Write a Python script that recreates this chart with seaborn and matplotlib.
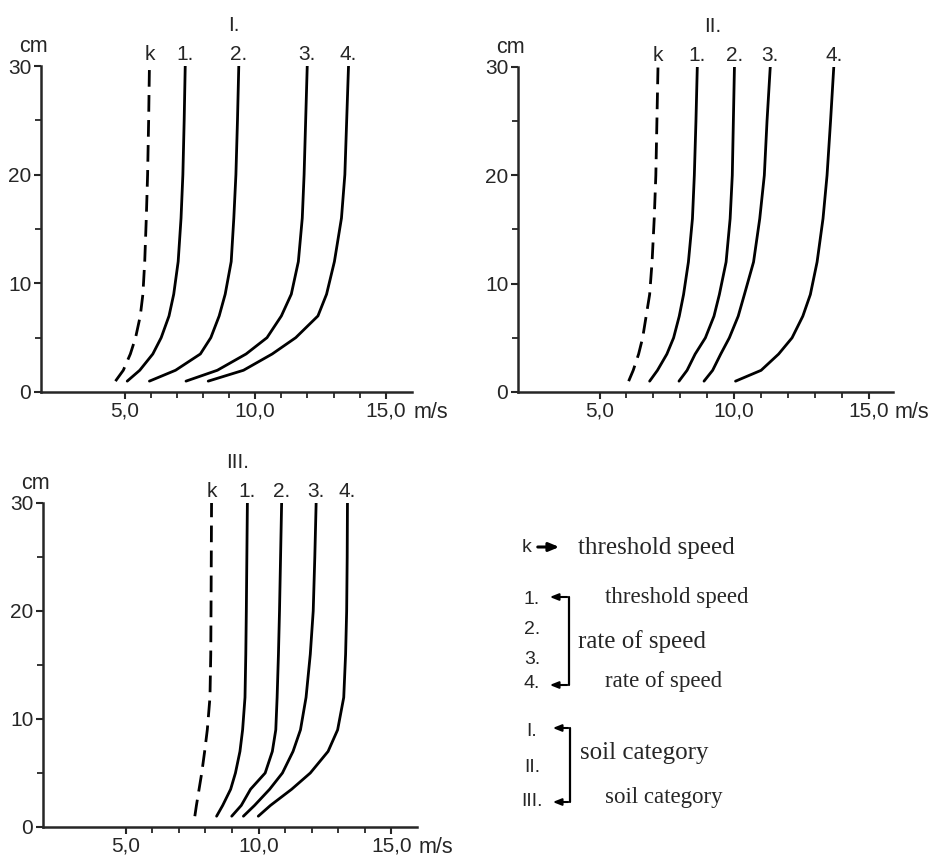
import matplotlib
matplotlib.use("Agg")
import matplotlib.pyplot as plt
import seaborn as sns
import pandas as pd

# heights above the surface (cm) at which the profiles were read
heights = [1, 2, 3.5, 5, 7, 9, 12, 16, 20, 25, 30]
curve_names = ["k", "1.", "2.", "3.", "4."]

# wind speed (m/s) - soil category I.
speed_I_k = [4.65, 4.95, 5.22, 5.42, 5.60, 5.70, 5.77, 5.83, 5.88, 5.92, 5.95]
speed_I_1 = [5.10, 5.58, 6.08, 6.40, 6.70, 6.88, 7.05, 7.16, 7.23, 7.28, 7.32]
speed_I_2 = [5.95, 6.95, 7.90, 8.30, 8.62, 8.85, 9.08, 9.18, 9.26, 9.32, 9.37]
speed_I_3 = [7.35, 8.55, 9.65, 10.45, 11.00, 11.38, 11.65, 11.80, 11.87, 11.93, 11.99]
speed_I_4 = [8.20, 9.55, 10.65, 11.55, 12.40, 12.73, 13.03, 13.30, 13.43, 13.50, 13.57]

# soil category II.
speed_II_k = [6.08, 6.25, 6.45, 6.60, 6.73, 6.86, 6.95, 7.03, 7.09, 7.13, 7.17]
speed_II_1 = [6.86, 7.15, 7.50, 7.75, 7.96, 8.12, 8.30, 8.45, 8.52, 8.58, 8.63]
speed_II_2 = [7.95, 8.25, 8.55, 8.93, 9.25, 9.45, 9.70, 9.85, 9.93, 9.97, 10.01]
speed_II_3 = [8.88, 9.20, 9.50, 9.82, 10.15, 10.38, 10.72, 10.95, 11.12, 11.22, 11.34]
speed_II_4 = [10.05, 11.00, 11.65, 12.15, 12.55, 12.83, 13.08, 13.30, 13.45, 13.58, 13.70]

# soil category III.
speed_III_k = [7.60, 7.66, 7.76, 7.86, 7.97, 8.07, 8.17, 8.20, 8.21, 8.22, 8.23]
speed_III_1 = [8.42, 8.65, 8.95, 9.13, 9.30, 9.40, 9.49, 9.52, 9.54, 9.56, 9.58]
speed_III_2 = [8.99, 9.35, 9.70, 10.25, 10.52, 10.65, 10.70, 10.75, 10.79, 10.83, 10.87]
speed_III_3 = [9.43, 9.85, 10.42, 10.90, 11.30, 11.58, 11.79, 11.95, 12.06, 12.12, 12.17]
speed_III_4 = [9.99, 10.45, 11.25, 11.95, 12.62, 12.98, 13.21, 13.28, 13.32, 13.34, 13.35]

x_ticks = [5, 10, 15]
x_tick_labels = ["5,0", "10,0", "15,0"]
y_ticks = [0, 10, 20, 30]

sns.set_style("ticks")
plt.rcParams["font.family"] = ["Liberation Sans", "DejaVu Sans"]

fig = plt.figure(figsize=(9.3, 8.59), dpi=100)
fig.patch.set_facecolor("white")

W, H = 930, 859


def rect(x0, y_top, x1, y_bot):
    return [x0 / W, 1 - y_bot / H, (x1 - x0) / W, (y_bot - y_top) / H]


panels = [
    ("I.", [speed_I_k, speed_I_1, speed_I_2, speed_I_3, speed_I_4],
     rect(41, 66, 412, 392), (1.8, 16.0)),
    ("II.", [speed_II_k, speed_II_1, speed_II_2, speed_II_3, speed_II_4],
     rect(518, 67, 893, 392), (1.97, 15.9)),
    ("III.", [speed_III_k, speed_III_1, speed_III_2, speed_III_3, speed_III_4],
     rect(43, 503, 417, 827), (1.88, 15.97)),
]

for title, curves, r, xlim in panels:
    ax = fig.add_axes(r)
    rows = []
    for name, sp in zip(curve_names, curves):
        for h, s in zip(heights, sp):
            rows.append((name, s, h))
    df = pd.DataFrame(rows, columns=["curve", "speed", "height"])

    for name in curve_names:
        d = df[df["curve"] == name]
        ls = (0, (6, 3)) if name == "k" else "-"
        sns.lineplot(data=d, x="speed", y="height", sort=False, estimator=None,
                     color="black", lw=2.0, linestyle=ls, ax=ax)
        ax.text(d["speed"].iloc[-1], 31.1, name, ha="center", va="center",
                fontsize=15, clip_on=False)

    ax.set_xlim(*xlim)
    ax.set_ylim(0, 30)
    ax.set_xticks(x_ticks)
    ax.set_xticklabels(x_tick_labels)
    ax.set_xticks([v for v in range(6, 15) if v != 10], minor=True)
    ax.set_yticks(y_ticks)
    ax.set_yticks([5, 15, 25], minor=True)
    ax.tick_params(axis="both", which="major", labelsize=15, length=5, width=1.5,
                   direction="out", pad=2)
    ax.tick_params(axis="both", which="minor", length=4, width=1.3, direction="out")
    ax.set_xlabel("")
    ax.set_ylabel("")
    sns.despine(ax=ax)
    for sp_name in ["left", "bottom"]:
        ax.spines[sp_name].set_linewidth(1.8)
    ax.set_facecolor("none")

    ax.text(-0.02, 1.06, "cm", transform=ax.transAxes, fontsize=15.5,
            ha="center", va="center")
    ax.text(1.05, -0.062, "m/s", transform=ax.transAxes, fontsize=15.5,
            ha="center", va="center")
    ax.text(0.52, 1.125, title, transform=ax.transAxes, fontsize=15,
            ha="center", va="center")

# key, drawn in pixel coordinates of the page
key = fig.add_axes([0, 0, 1, 1])
key.set_xlim(0, W)
key.set_ylim(H, 0)
key.axis("off")
key.patch.set_alpha(0)

serif = ["Liberation Serif", "DejaVu Serif"]
sans_kw = dict(fontsize=14, ha="center", va="center")

key.text(527, 548, "k", **sans_kw)
key.annotate("", xy=(562, 547), xytext=(535, 547),
             arrowprops=dict(arrowstyle="-|>,head_length=0.6,head_width=0.25",
                             color="black", lw=2.2))
key.text(578, 548, "threshold speed", family=serif, fontsize=18, va="center")

for lab, y in [("1.", 600), ("2.", 630), ("3.", 660), ("4.", 684)]:
    key.text(532, y, lab, **sans_kw)
key.plot([569, 569], [597, 685], color="black", lw=1.6)
for y in (597, 685):
    key.annotate("", xy=(547, y), xytext=(570, y),
                 arrowprops=dict(arrowstyle="-|>,head_length=0.5,head_width=0.2",
                                 color="black", lw=1.5))
key.text(605, 598, "threshold speed", family=serif, fontsize=16.5, va="center")
key.text(578, 642, "rate of speed", family=serif, fontsize=18, va="center")
key.text(605, 682, "rate of speed", family=serif, fontsize=16.5, va="center")

for lab, y in [("I.", 731), ("II.", 767), ("III.", 801)]:
    key.text(532, y, lab, **sans_kw)
key.plot([570, 570], [728, 802], color="black", lw=1.6)
for y in (728, 802):
    key.annotate("", xy=(550, y), xytext=(571, y),
                 arrowprops=dict(arrowstyle="-|>,head_length=0.5,head_width=0.2",
                                 color="black", lw=1.5))
key.text(580, 753, "soil category", family=serif, fontsize=18, va="center")
key.text(605, 798, "soil category", family=serif, fontsize=16.5, va="center")

fig.savefig("out.png", dpi=100, facecolor="white")
